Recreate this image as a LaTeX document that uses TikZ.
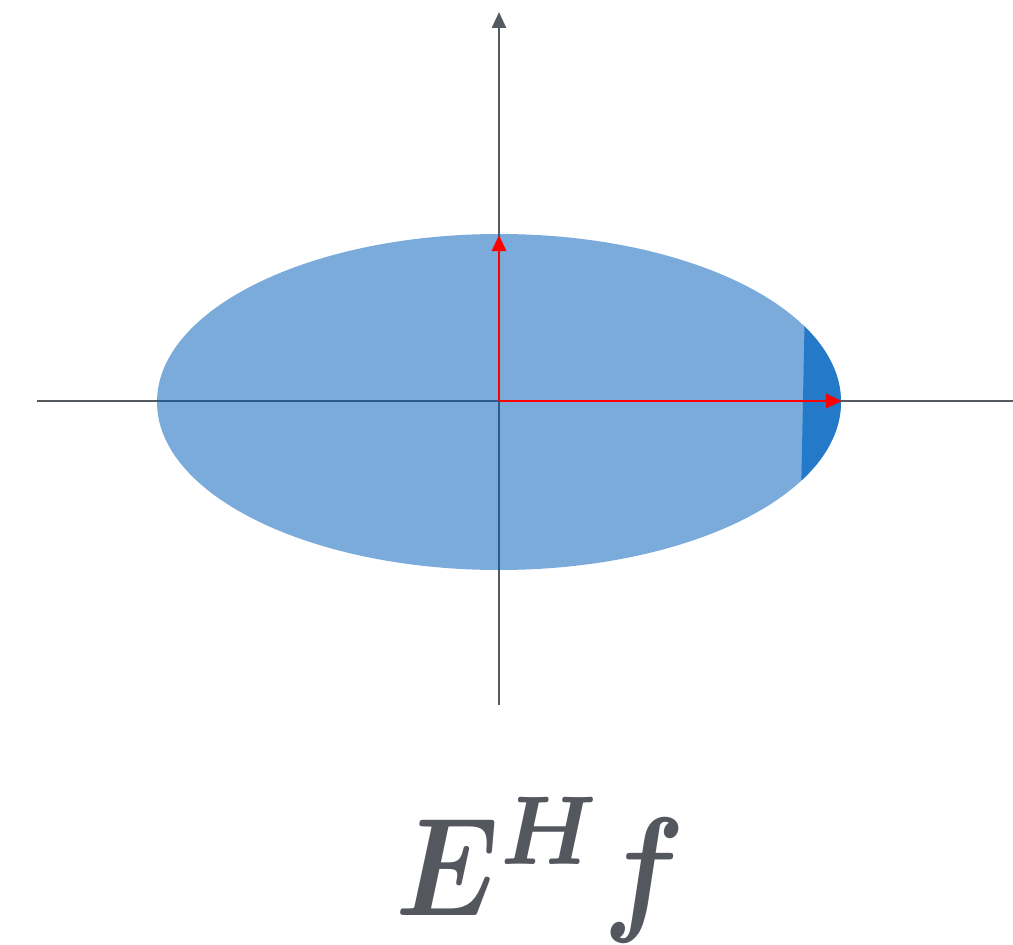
\documentclass[tikz,border=0pt]{standalone}
\usepackage{bm}
\usetikzlibrary{arrows.meta}
\definecolor{axisgray}{RGB}{86,90,97}
\definecolor{ellblue}{RGB}{0,93,185}
\definecolor{capblue}{RGB}{36,121,200}
\definecolor{vecred}{RGB}{255,0,0}
\definecolor{textgray}{RGB}{84,87,94}
\tikzset{
  axis/.style={draw=axisgray, line width=1.9pt},
  vec/.style={draw=vecred, line width=2.2pt, -{Triangle[length=12pt,width=10.5pt]}},
}
\begin{document}
\begin{tikzpicture}[x=0.75pt,y=-0.75pt]
\useasboundingbox (0,0) rectangle (1013,945);
\coordinate (O) at (499,401);
\coordinate (xl) at (37,401);
\coordinate (xr) at (1013,401);
\coordinate (yb) at (499,705);
\coordinate (yt) at (499,12);
\coordinate (top) at (499,235);
\coordinate (right) at (842,401);
% axes
\draw[axis] (xl) -- (xr);
\draw[axis, -{Triangle[length=12pt,width=10.5pt]}] (yb) -- (yt);
% ellipse
\fill[ellblue, fill opacity=0.52] (499,402) ellipse [x radius=256.5pt, y radius=126pt];
% dark cap
\begin{scope}
  \clip (499,402) ellipse [x radius=256.5pt, y radius=126pt];
  \fill[capblue] (805,300) -- (801,500) -- (900,500) -- (900,300) -- cycle;
\end{scope}
% red vectors
\draw[vec] (O) -- (top);
\draw[vec] (O) -- (right);
% label
\node[text=textgray, anchor=base, scale=10.5, xscale=0.86] (lab) at (540,915) {$\bm{E}^{\bm{H}}\bm{f}$};
\end{tikzpicture}
\end{document}
